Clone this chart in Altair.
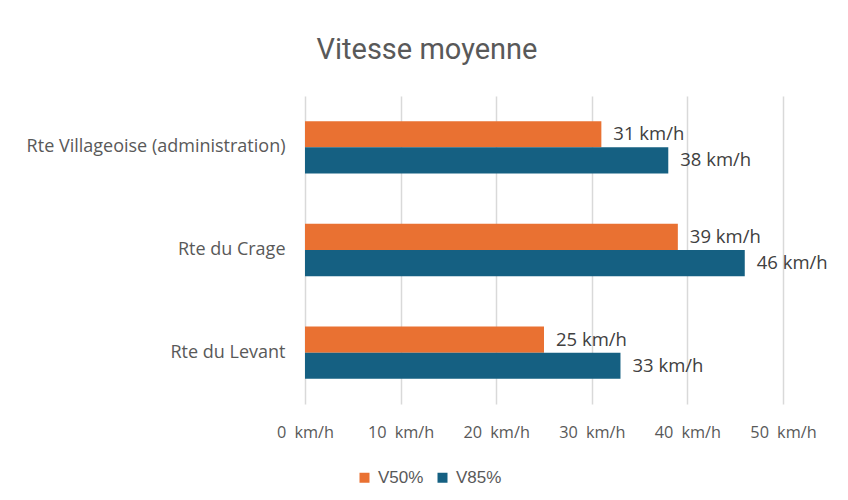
import altair as alt
import pandas as pd

routes = ["Rte Villageoise (administration)", "Rte du Crage", "Rte du Levant"]
series = ["V50%", "V85%"]
v50 = [31, 39, 25]
v85 = [38, 46, 33]
colors = ["#E97132", "#156082"]
x_ticks = [0, 10, 20, 30, 40, 50]

rows = []
for r, a, b in zip(routes, v50, v85):
    rows.append({"route": r, "serie": series[0], "value": a})
    rows.append({"route": r, "serie": series[1], "value": b})
df = pd.DataFrame(rows)

FONT = "Open Sans"
GRAY = "#595959"

y_enc = alt.Y(
    "route:N",
    sort=routes,
    scale=alt.Scale(paddingInner=0.49, paddingOuter=0.245),
    axis=alt.Axis(
        title=None, domain=False, ticks=False, grid=False, labelPadding=20,
        labelFont=FONT, labelFontSize=18, labelColor=GRAY, labelLimit=400,
    ),
)
x_enc = alt.X(
    "value:Q",
    scale=alt.Scale(domain=[0, 50], nice=False),
    axis=alt.Axis(
        title=None, values=x_ticks, domain=False, ticks=False, labelPadding=20,
        grid=True, gridColor="#d9d9d9", gridWidth=1.5,
        labelFlush=False, labelBound=False, labelOverlap=False,
        labelExpr="datum.value + '\u2002km/h'",
        labelFont=FONT, labelFontSize=16.3, labelColor=GRAY,
    ),
)
yoff = alt.YOffset("serie:N", sort=series)

bars = alt.Chart(df).mark_bar().encode(
    y=y_enc,
    x=x_enc,
    yOffset=yoff,
    color=alt.Color(
        "serie:N",
        sort=series,
        scale=alt.Scale(domain=series, range=colors),
        legend=alt.Legend(
            title=None, orient="none", legendX=51, legendY=373,
            direction="horizontal", symbolType="square", symbolSize=100,
            symbolStrokeWidth=0, labelFont="Liberation Sans", labelFontSize=17,
            labelColor=GRAY, columnPadding=10, labelOffset=5,
        ),
    ),
)

labels = alt.Chart(df).mark_text(
    align="left", baseline="middle", dx=12, font=FONT, fontSize=18.5, color="#404040"
).encode(
    y=alt.Y("route:N", sort=routes),
    x=alt.X("value:Q"),
    yOffset=yoff,
    text=alt.Text("label:N"),
).transform_calculate(label="datum.value + ' km/h'")

chart = (
    alt.layer(bars, labels)
    .properties(
        width=478,
        height=308,
        autosize="none",
        background="white",
        padding={"left": 297, "top": 88, "right": 57, "bottom": 88},
        title=alt.TitleParams(
            "Vitesse moyenne", font="Roboto", fontSize=29, fontWeight="normal",
            color=GRAY, anchor="middle", dx=-117, offset=31,
        ),
    )
    .configure_view(stroke="transparent", strokeWidth=0)
    .configure_axis(domain=False)
)

chart.save("out.html", embed_options={"renderer": "svg", "actions": False})
